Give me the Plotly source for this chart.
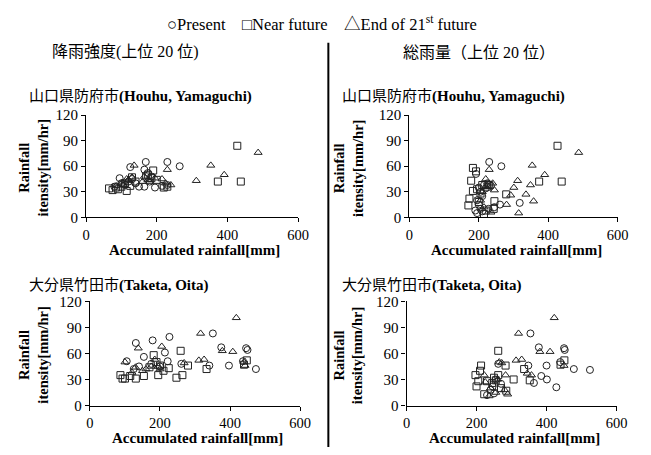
import plotly.graph_objects as go

# ---------------- data ----------------
# Top-left: 山口県防府市, 降雨強度 top 20  (x = accumulated rainfall [mm], y = intensity [mm/hr])
tl_present_x = [169, 230, 265, 125, 165, 175, 95, 100, 110, 150, 165, 195, 180, 120, 80, 130, 185, 230, 215, 140]
tl_present_y = [65, 65, 60, 59, 56, 52, 46, 40, 38, 36, 36, 35, 42, 42, 36, 45, 48, 38, 37, 40]
tl_near_x = [428, 373, 438, 190, 175, 170, 65, 75, 90, 115, 125, 130, 110, 100, 220, 230, 185, 200, 140, 85]
tl_near_y = [84, 42, 42, 55, 50, 48, 34, 32, 33, 31, 37, 47, 40, 36, 35, 36, 46, 44, 42, 35]
tl_end_x = [487, 353, 391, 312, 136, 230, 215, 195, 165, 175, 120, 100, 85, 240, 225, 130, 180, 105, 160, 115]
tl_end_y = [76, 61, 50, 43, 61, 56, 45, 46, 48, 44, 44, 40, 37, 38, 40, 47, 42, 38, 42, 45]

# Top-right: 山口県防府市, 総雨量 top 20
tr_present_x = [230, 265, 192, 318, 261, 200, 205, 210, 195, 200, 205, 210, 195, 215, 225, 220, 235, 190, 245, 228]
tr_present_y = [65, 60, 51, 17, 15, 35, 30, 25, 20, 15, 10, 7, 5, 38, 40, 34, 37, 8, 12, 10]
tr_near_x = [427, 374, 439, 183, 192, 178, 183, 173, 170, 245, 243, 279, 205, 200, 210, 225, 230, 195, 215, 220]
tr_near_y = [84, 42, 42, 58, 54, 43, 31, 22, 14, 19, 10, 27, 28, 18, 38, 36, 38, 33, 4, 8]
tr_end_x = [488, 354, 390, 312, 349, 301, 336, 358, 315, 280, 292, 230, 220, 240, 245, 210, 225, 205, 215, 235]
tr_end_y = [76, 61, 50, 43, 38, 35, 27, 19, 5, 15, 26, 56, 45, 40, 32, 30, 37, 20, 12, 6]

# Bottom-left: 大分県竹田市, 降雨強度 top 20
bl_present_x = [131, 179, 227, 154, 214, 222, 105, 351, 375, 446, 450, 397, 341, 474, 437, 261, 140, 175, 200, 125]
bl_present_y = [72, 75, 79, 56, 61, 51, 51, 83, 67, 66, 64, 46, 46, 42, 51, 48, 45, 48, 45, 42]
bl_near_x = [259, 333, 448, 280, 264, 247, 87, 93, 131, 154, 182, 190, 200, 210, 170, 195, 115, 100, 225, 440]
bl_near_y = [63, 42, 52, 46, 35, 32, 35, 31, 31, 34, 58, 50, 46, 40, 44, 35, 34, 31, 43, 47]
bl_end_x = [418, 316, 138, 205, 100, 378, 408, 311, 326, 443, 269, 160, 185, 195, 120, 150, 175, 130, 200, 440]
bl_end_y = [101, 83, 66, 68, 50, 63, 62, 52, 53, 46, 49, 42, 53, 45, 38, 40, 45, 44, 42, 50]

# Bottom-right: 大分県竹田市, 総雨量 top 20
br_present_x = [354, 378, 450, 452, 400, 478, 524, 428, 401, 385, 364, 348, 439, 262, 246, 255, 240, 270, 250, 230]
br_present_y = [83, 67, 66, 64, 46, 42, 41, 21, 30, 34, 26, 46, 50, 48, 22, 30, 18, 25, 14, 12]
br_near_x = [451, 336, 352, 306, 262, 283, 262, 213, 197, 200, 222, 285, 250, 210, 230, 270, 205, 245, 440, 255]
br_near_y = [52, 42, 29, 30, 63, 46, 35, 46, 35, 22, 13, 17, 32, 40, 28, 20, 28, 26, 47, 29]
br_end_x = [422, 320, 381, 410, 450, 313, 329, 345, 357, 272, 283, 222, 236, 289, 265, 240, 225, 255, 280, 260]
br_end_y = [101, 83, 62, 62, 46, 52, 53, 37, 35, 49, 35, 35, 11, 13, 50, 20, 27, 15, 18, 30]

x_ticks = [0, 200, 400, 600]
y_ticks = [0, 30, 60, 90, 120]

legend_text = "○Present　□Near future　△End of 21<sup>st</sup> future"
left_head = "降雨強度(上位 20 位)"
right_head = "総雨量（上位 20 位）"
title_top = "山口県防府市<b>(Houhu, Yamaguchi)</b>"
title_bot = "大分県竹田市<b>(Taketa, Oita)</b>"
x_title = "<b>Accumulated rainfall[mm]</b>"
y_title = "<b>Rainfall<br>itensity[mm/hr]</b>"

# ---------------- figure ----------------
W, H = 651, 455
FONT = "Liberation Serif, Times New Roman, Noto Sans CJK JP, serif"
MC = "#222222"

def px(x):
    return x / W

def py(y):
    return 1 - y / H

panels = [
    ("x", "y", (84, 301), (111, 217),
     (tl_present_x, tl_present_y, tl_near_x, tl_near_y, tl_end_x, tl_end_y)),
    ("x2", "y2", (415, 628), (111, 217),
     (tr_present_x, tr_present_y, tr_near_x, tr_near_y, tr_end_x, tr_end_y)),
    ("x3", "y3", (88, 303), (304, 412),
     (bl_present_x, bl_present_y, bl_near_x, bl_near_y, bl_end_x, bl_end_y)),
    ("x4", "y4", (412, 627), (304, 412),
     (br_present_x, br_present_y, br_near_x, br_near_y, br_end_x, br_end_y)),
]

fig = go.Figure()
layout = dict(
    width=W, height=H, margin=dict(l=0, r=0, t=0, b=0),
    paper_bgcolor="white", plot_bgcolor="white", showlegend=False,
    font=dict(family=FONT, size=13, color="black"),
)

symbols = ["circle-open", "square-open", "triangle-up-open"]
names = ["Present", "Near future", "End of 21st future"]

annotations = []
for xa, ya, (x0, x1), (y0, y1), data in panels:
    for k in range(3):
        fig.add_trace(go.Scatter(
            x=data[2 * k], y=data[2 * k + 1], mode="markers", name=names[k],
            xaxis=xa, yaxis=ya,
            marker=dict(symbol=symbols[k], size=7, color=MC, line=dict(width=1, color=MC)),
        ))
    xkey = "xaxis" + xa[1:]
    ykey = "yaxis" + ya[1:]
    layout[xkey] = dict(
        domain=[px(x0), px(x1)], anchor=ya, range=[0, 600], tickvals=x_ticks,
        showline=True, linecolor="black", linewidth=1.2, ticks="outside", ticklen=4,
        tickcolor="black", showgrid=False, zeroline=False,
        tickfont=dict(family=FONT, size=14.5, color="black"),
    )
    layout[ykey] = dict(
        domain=[py(y1), py(y0)], anchor=xa, range=[0, 120], tickvals=y_ticks,
        showline=True, linecolor="black", linewidth=1.2, ticks="outside", ticklen=4,
        tickcolor="black", showgrid=False, zeroline=False,
        tickfont=dict(family=FONT, size=15, color="black"),
    )
    annotations.append(dict(
        text=x_title, xref="paper", yref="paper", x=px((x0 + x1) / 2 + 3), y=py(y1 + 34),
        showarrow=False, xanchor="center", yanchor="middle",
        font=dict(family=FONT, size=15, color="black"),
    ))
    annotations.append(dict(
        text=y_title, xref="paper", yref="paper", x=px(30 if x0 < 200 else 352),
        y=py((y0 + y1) / 2 + 2), showarrow=False, xanchor="center", yanchor="middle",
        textangle=-90, font=dict(family=FONT, size=14.5, color="black"),
    ))

for xpos, ypos, txt in [(24, 92, title_top), (344, 92, title_top),
                        (24, 288, title_bot), (344, 288, title_bot)]:
    annotations.append(dict(
        text=txt, xref="paper", yref="paper", x=px(xpos), y=py(ypos),
        showarrow=False, xanchor="left", yanchor="middle",
        font=dict(family=FONT, size=15, color="black"),
    ))

annotations.append(dict(text=legend_text, xref="paper", yref="paper", x=px(326), y=py(16),
                        showarrow=False, xanchor="center", yanchor="middle",
                        font=dict(family=FONT, size=16.5, color="black")))
annotations.append(dict(text=left_head, xref="paper", yref="paper", x=px(124), y=py(46),
                        showarrow=False, xanchor="center", yanchor="middle",
                        font=dict(family=FONT, size=16, color="black")))
annotations.append(dict(text=right_head, xref="paper", yref="paper", x=px(486), y=py(46),
                        showarrow=False, xanchor="center", yanchor="middle",
                        font=dict(family=FONT, size=16, color="black")))

layout["annotations"] = annotations
layout["shapes"] = [dict(type="line", xref="paper", yref="paper",
                         x0=px(332), x1=px(332), y0=py(36), y1=0,
                         line=dict(color="black", width=2))]

fig.update_layout(**layout)
fig.write_html("out.html", config={"displayModeBar": False},
               post_script="document.body.style.margin='0';document.body.style.overflow='hidden';")
